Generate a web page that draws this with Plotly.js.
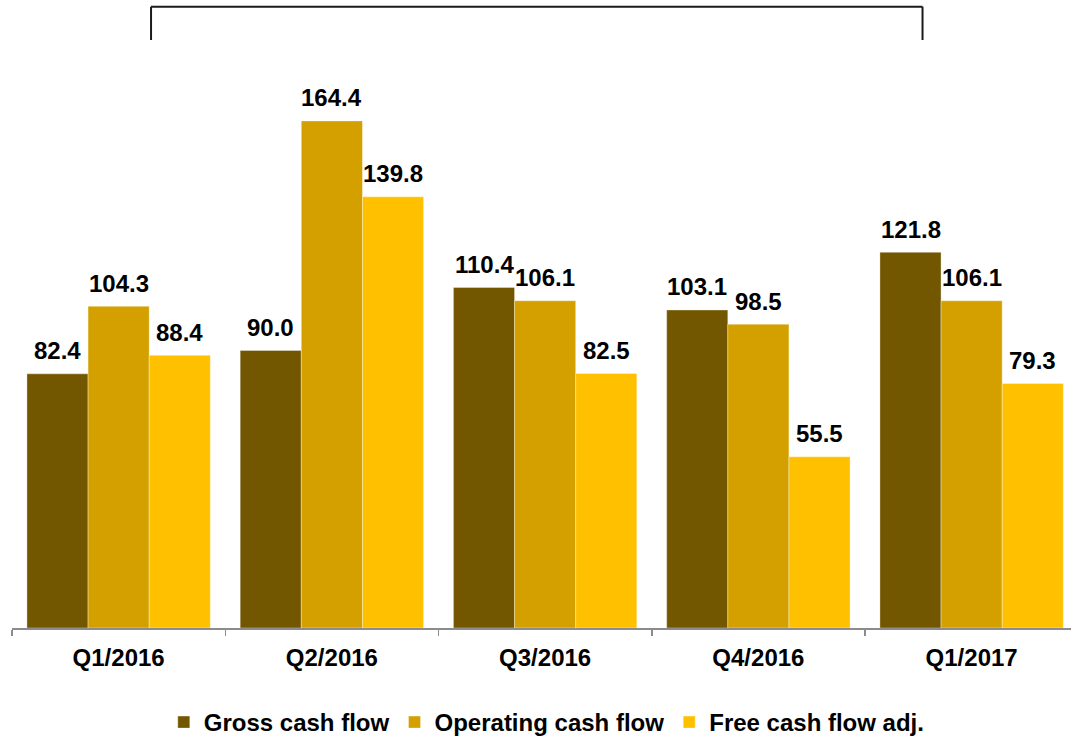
<!DOCTYPE html>
<html>
<head>
<meta charset="utf-8">
<script src="https://cdn.plot.ly/plotly-3.0.1.min.js"></script>
<style>html,body{margin:0;padding:0;background:#fff;}#chart{width:1071px;height:738px;}</style>
</head>
<body>
<div id="chart"></div>
<script>
const categories = ["Q1/2016", "Q2/2016", "Q3/2016", "Q4/2016", "Q1/2017"];
const seriesNames = ["Gross cash flow", "Operating cash flow", "Free cash flow adj."];
const grossCashFlow = [82.4, 90.0, 110.4, 103.1, 121.8];
const operatingCashFlow = [104.3, 164.4, 106.1, 98.5, 106.1];
const freeCashFlowAdj = [88.4, 139.8, 82.5, 55.5, 79.3];

const colors = ["#725700", "#D3A000", "#FFC000"];
const allSeries = [grossCashFlow, operatingCashFlow, freeCashFlowAdj];
const FONT = "Arial, 'Liberation Sans', sans-serif";

const traces = allSeries.map((vals, i) => ({
  type: "bar",
  name: seriesNames[i],
  x: categories,
  y: vals,
  marker: { color: colors[i], line: { color: "rgba(255,255,255,0.35)", width: 1 } },
  hoverinfo: "skip"
}));

const barPx = 61;
const annotations = [];
allSeries.forEach((vals, i) => {
  vals.forEach((v, j) => {
    annotations.push({
      x: categories[j], y: v, xref: "x", yref: "y",
      text: v.toFixed(1),
      showarrow: false,
      xshift: (i - 1) * barPx,
      yshift: 23,
      yanchor: "middle",
      font: { family: FONT, size: 24, color: "#000", weight: "bold" }
    });
  });
});

const shapes = [
  { type: "line", xref: "paper", yref: "paper", x0: 0.1313, x1: 0.1313, y0: 0.9363, y1: 0.9893, line: { color: "#1a1a1a", width: 2 } },
  { type: "line", xref: "paper", yref: "paper", x0: 0.1313, x1: 0.8598, y0: 0.9893, y1: 0.9893, line: { color: "#1a1a1a", width: 2 } },
  { type: "line", xref: "paper", yref: "paper", x0: 0.8598, x1: 0.8598, y0: 0.9363, y1: 0.9893, line: { color: "#1a1a1a", width: 2 } }
];

const layout = {
  width: 1071, height: 738,
  margin: { l: 12, r: 0, t: 0, b: 110 },
  paper_bgcolor: "#fff", plot_bgcolor: "#fff",
  barmode: "group",
  bargap: 0.14,
  bargroupgap: 0,
  showlegend: true,
  legend: {
    orientation: "h", x: 0.505, xanchor: "center",
    yref: "container", y: 0.021, yanchor: "middle",
    font: { family: FONT, size: 24, color: "#000", weight: "bold" },
    itemwidth: 30, traceorder: "normal"
  },
  xaxis: {
    type: "category",
    range: [-0.5, 4.466],
    showline: true, linecolor: "#8c8c8c", linewidth: 1.5,
    ticks: "outside", tickson: "boundaries", ticklen: 6, tickcolor: "#8c8c8c", tickwidth: 1.5,
    ticklabelstandoff: 8,
    tickfont: { family: FONT, size: 24, color: "#000", weight: "bold" },
    showgrid: false, zeroline: false, fixedrange: true
  },
  yaxis: {
    range: [0, 203.6],
    visible: false, showgrid: false, zeroline: false, fixedrange: true
  },
  annotations: annotations,
  shapes: shapes
};

Plotly.newPlot("chart", traces, layout, { displayModeBar: false, staticPlot: true });
</script>
</body>
</html>
